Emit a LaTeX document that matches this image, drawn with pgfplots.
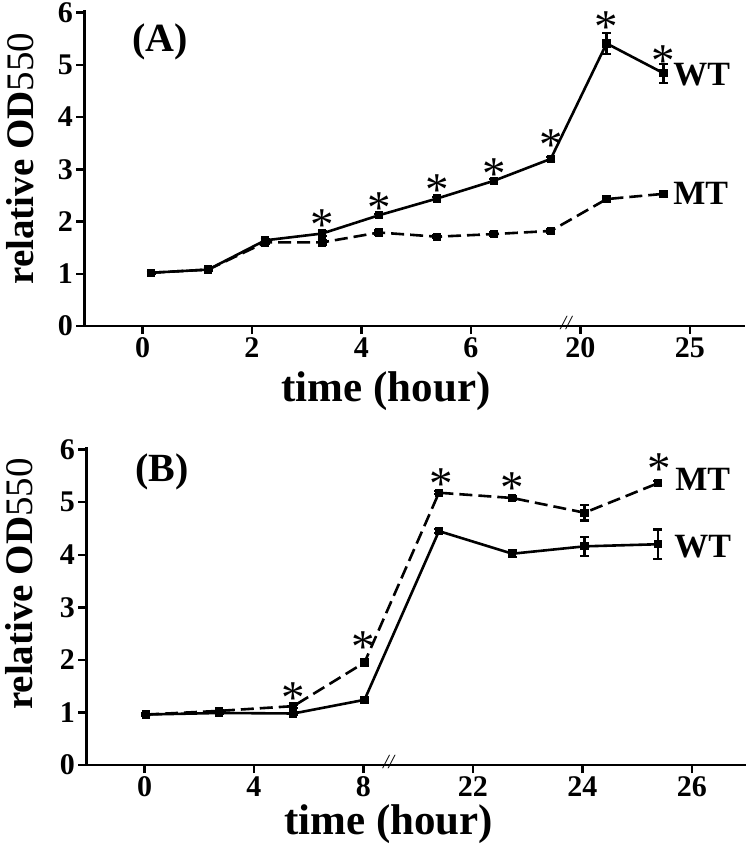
\documentclass[border=0pt]{standalone}
\usepackage{fontspec}
\setmainfont{Liberation Serif}
\usepackage{pgfplots}
\usepackage{pgfplotstable}
\pgfplotsset{compat=1.18}

\pgfplotstableread{
x y e
0.08 1.02 0.02
0.60 1.08 0.02
1.12 1.64 0.03
1.64 1.77 0.04
2.16 2.12 0.03
2.69 2.44 0.03
3.21 2.78 0.03
3.73 3.20 0.04
4.24 5.41 0.20
4.76 4.84 0.18
}\AWT
\pgfplotstableread{
x y e
0.08 1.02 0.02
0.60 1.08 0.02
1.12 1.60 0.03
1.64 1.60 0.04
2.16 1.79 0.04
2.69 1.71 0.03
3.21 1.76 0.03
3.73 1.82 0.04
4.24 2.43 0.03
4.76 2.53 0.06
}\AMT
\pgfplotstableread{
x y
1.64 2.08
2.16 2.40
2.69 2.75
3.21 3.06
3.73 3.60
4.24 5.86
4.76 5.21
}\AStar
\pgfplotstableread{
x y e
0.013 0.96 0.02
0.684 0.99 0.02
1.36 0.98 0.03
2.01 1.24 0.03
2.69 4.45 0.04
3.36 4.02 0.06
4.02 4.16 0.18
4.69 4.20 0.28
}\BWT
\pgfplotstableread{
x y e
0.013 0.96 0.02
0.684 1.03 0.02
1.36 1.12 0.03
2.01 1.95 0.04
2.69 5.18 0.03
3.36 5.08 0.03
4.02 4.80 0.15
4.69 5.36 0.04
}\BMT
\pgfplotstableread{
x y
1.36 1.41
2.00 2.38
2.71 5.48
3.36 5.42
4.70 5.77
}\BStar

\pgfplotsset{
 panel/.style={
  scale only axis, width=660pt, height=317pt,
  anchor=south west,
  axis x line*=bottom, axis y line*=left,
  axis line style={line width=2.6pt, -},
  xmin=-0.53, xmax=5.5, ymin=0, ymax=6.05,
  xtick={0,...,5}, ytick={0,...,6},
  tick align=outside, major tick length=8pt,
  every tick/.style={line width=2.4pt, black},
  tick label style={font=\fontsize{30}{30}\selectfont\bfseries},
  /pgf/number format/assume math mode=true,
  clip=false,
  ylabel={\bfseries relative OD{\mdseries 550}},
  xlabel={time (hour)},
  xlabel style={font=\fontsize{43}{43}\selectfont\bfseries, anchor=base},
  ylabel style={font=\fontsize{39}{39}\selectfont, anchor=base},
 },
 wt/.style={black, line width=2.6pt, solid, mark=square*, mark size=2.8pt, mark options={solid},
   error bars/.cd, y dir=both, y explicit,
   error bar style={line width=2.2pt, solid},
   error mark options={rotate=90, mark size=4.5pt, line width=2.2pt}},
 mt/.style={black, line width=2.6pt, dash pattern=on 13pt off 6pt, mark=square*, mark size=2.8pt, mark options={solid},
   error bars/.cd, y dir=both, y explicit,
   error bar style={line width=2.2pt, solid},
   error mark options={rotate=90, mark size=4.5pt, line width=2.2pt}},
 star/.style={only marks, mark=none, nodes near coords={*},
   every node near coord/.append style={anchor=center, yshift=-7.5pt, font=\fontsize{47}{47}\selectfont, inner sep=0pt}},
}

\begin{document}
\begin{tikzpicture}
\path[use as bounding box] (0pt,0pt) rectangle (746pt,-853pt);
% Panel A
\begin{axis}[panel, at={(84.5pt,-326pt)}, height=316pt,
  xticklabels={0,2,4,6,20,25},
  xlabel style={at={(axis description cs:0.457,-0.24)}},
  ylabel style={at={(axis description cs:-0.078,0.53)}}]
\addplot[wt] table[x=x,y=y,y error=e] {\AWT};
\addplot[mt] table[x=x,y=y,y error=e] {\AMT};
\addplot[star] table[x=x,y=y] {\AStar};
\node[font=\fontsize{40}{40}\selectfont\bfseries] at (axis cs:0.16,5.44) {(A)};
\node[font=\fontsize{34}{34}\selectfont\bfseries] at (axis cs:5.11,4.81) {WT};
\node[font=\fontsize{34}{34}\selectfont\bfseries] at (axis cs:5.10,2.54) {MT};
\node[font=\fontsize{20}{20}\selectfont\itshape, inner sep=0pt] at (axis cs:3.87,0.05) {//};
\end{axis}
% Panel B
\begin{axis}[panel, at={(86.5pt,-765pt)}, height=318pt,
  xticklabels={0,4,8,22,24,26},
  xlabel style={at={(axis description cs:0.458,-0.22)}},
  ylabel style={at={(axis description cs:-0.082,0.569)}}]
\addplot[wt] table[x=x,y=y,y error=e] {\BWT};
\addplot[mt] table[x=x,y=y,y error=e] {\BMT};
\addplot[star] table[x=x,y=y] {\BStar};
\node[font=\fontsize{40}{40}\selectfont\bfseries] at (axis cs:0.16,5.57) {(B)};
\node[font=\fontsize{34}{34}\selectfont\bfseries] at (axis cs:5.10,5.44) {MT};
\node[font=\fontsize{34}{34}\selectfont\bfseries] at (axis cs:5.10,4.16) {WT};
\node[font=\fontsize{20}{20}\selectfont\itshape, inner sep=0pt] at (axis cs:2.23,0.05) {//};
\end{axis}
\end{tikzpicture}
\end{document}
